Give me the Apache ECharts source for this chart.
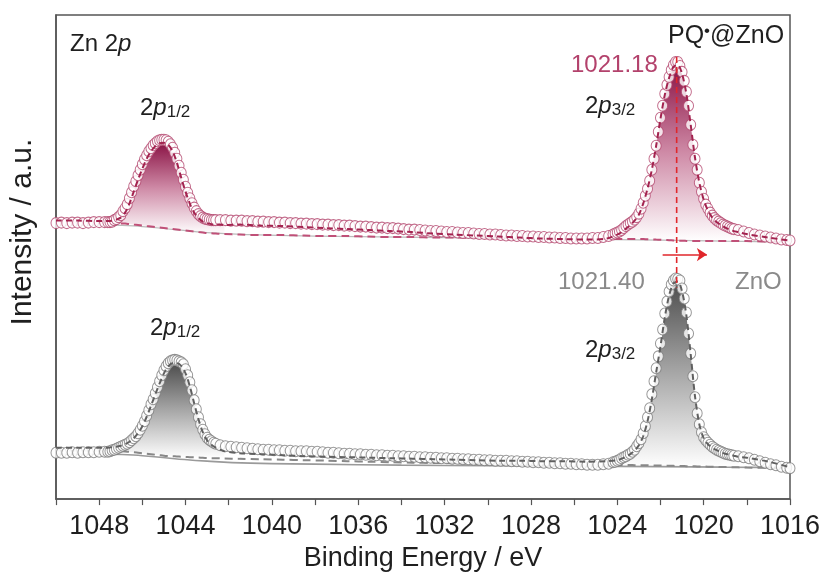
<!DOCTYPE html>
<html><head><meta charset="utf-8">
<script src="https://cdn.jsdelivr.net/npm/echarts@6/dist/echarts.min.js"></script>
<style>html,body{margin:0;padding:0;background:#fff}#c{width:829px;height:577px}</style>
</head><body><div id="c"></div>
<script>
// ---------- measured data grid (binding energy, eV) ----------
const eData = [1050,1049.75,1049.5,1049.25,1049,1048.75,1048.5,1048.25,1048,1047.75,
1047.6,1047.5,1047.4,1047.3,1047.2,1047.1,1047.0,1046.9,1046.8,1046.7,1046.6,1046.5,1046.4,1046.3,1046.2,1046.1,1046.0,1045.9,1045.8,1045.7,1045.6,1045.5,1045.4,1045.3,1045.2,1045.1,1045.0,1044.9,1044.8,1044.7,1044.6,1044.5,1044.4,1044.3,1044.2,1044.1,1044.0,1043.9,1043.8,1043.7,1043.6,1043.5,1043.4,1043.3,1043.2,1043.1,1043.0,1042.9,1042.8,1042.7,1042.6,
1042.4,1042.15,1041.9,1041.65,1041.4,1041.15,1040.9,1040.65,1040.4,1040.15,1039.9,1039.65,1039.4,1039.15,1038.9,1038.65,1038.4,1038.15,1037.9,1037.65,1037.4,1037.15,1036.9,1036.65,1036.4,1036.15,1035.9,1035.65,1035.4,1035.15,1034.9,1034.65,1034.4,1034.15,1033.9,1033.65,1033.4,1033.15,1032.9,1032.65,1032.4,1032.15,1031.9,1031.65,1031.4,1031.15,1030.9,1030.65,1030.4,1030.15,1029.9,1029.65,1029.4,1029.15,1028.9,1028.65,1028.4,1028.15,1027.9,1027.65,1027.4,1027.15,1026.9,1026.65,1026.4,1026.15,1025.9,1025.65,1025.4,1025.15,1024.9,1024.65,1024.4,
1024.2,1024.1,1024.0,1023.9,1023.8,1023.7,1023.6,1023.5,1023.4,1023.3,1023.2,1023.1,1023.0,1022.9,1022.8,1022.7,1022.6,1022.5,1022.4,1022.3,1022.2,1022.1,1022.0,1021.9,1021.8,1021.7,1021.6,1021.5,1021.4,1021.3,1021.2,1021.1,1021.0,1020.9,1020.8,1020.7,1020.6,1020.5,1020.4,1020.3,1020.2,1020.1,1020.0,1019.9,1019.8,1019.7,1019.6,1019.5,1019.4,1019.3,1019.2,1019.1,1019.0,1018.9,1018.8,1018.7,1018.6,
1018.4,1018.15,1017.9,1017.65,1017.4,1017.15,1016.9,1016.65,1016.4,1016.15,1016.0];

// PQ•@ZnO measured intensity (a.u.)
const pqData = [276.5,277,276.5,277,277,276.5,277,277.5,277.5,277.5,
277.5,277.5,278,279.5,280.5,282.5,284.5,288.5,291.5,295.5,301.5,307.5,313.5,318.5,324.5,330,335.5,340.5,344.5,348.5,351.5,354.5,356.5,358.5,359.5,360,360,359.5,358,355.5,352,347,341,334,327,320,313,307,301.5,296.5,292,288.5,285.5,283.5,282,281,280.5,280,279.5,279.5,279.5,
279.5,279.5,279,279,279,278.5,278.5,278,278,277.5,277.5,277,277,276.5,276.5,276,276,275.5,275.5,275,275,274.5,274.5,274,274,273.5,273,273,272.5,272,272,271.5,271.5,271,270.5,270,270,269.5,269,268.5,268.5,268,267.5,267.5,267,266.5,266.5,266,265.5,265.5,265,265,264.5,264,264,263.5,263.5,263,263,262.5,262.5,262,262,261.5,261.5,261,261,261,261,261.5,261.5,262.5,263.5,
265,266,267,268,269.5,271.5,273.5,275,276.5,278,280,282.5,286,291,297,304,311,319,330,341,354,368,382,394,406,415,423,430,435,438,438,434,428,419,408,394,375,355,341,330,317,308,301,295,291,287,284,281.5,279.5,278,276.5,275,274,273,272,271,270.5,
269.5,268,266.5,265,264,263,262,261,260,259.5,259];

// ZnO measured intensity (a.u.)
const znoData = [46.5,46.5,46.5,47,46.5,47,47,47,47.5,47.5,
47.5,48,49,49.5,50.5,51.5,52.5,53.5,54.5,55.5,57,59,61,63,66,69.5,73.5,78,83.5,89,95,100,106,112,118,124,129,133,136,138,139,139.5,139,138,137,135,130,124,117,109,99,90,82,75,69.5,65,61.5,59.5,58,56.5,55.5,
54,53,52.5,52,51.5,51,50.5,50,49.5,49.5,49,49,48.5,48.5,48,48,48,47.5,47.5,47,46.5,46.5,46,45.5,45.5,45,45,44.5,44.5,44,44,43.5,43.5,43,43,42.5,42.5,42,42,41.5,41.5,41,41,40.5,40.5,40,40,39.5,39.5,39,39,38.5,38.5,38.5,38,38,37.5,37.5,37,37,36.5,36.5,36,36,35.5,35.5,35,35,34.5,34.5,34.5,35,35.5,
37,37.5,38.5,39.5,41,42,43,44.5,45.5,47.5,49.5,53,56,60,66,73,82,91,105,118,131,143,156,170,186,198,208,215,219,221,220.5,219,211,201,187,166,146,123,102,86,75,67,62,59,56.5,54.5,52.5,51,49.5,48.5,47.5,46.5,45.5,45,44.5,44,43.5,
43,42,41,39.5,38,36.5,35,34,32.5,31.5,31];

// ---------- fit grid ----------
const eFit = [1050,1049,1048,
1047.8,1047.6,1047.4,1047.2,1047.0,1046.8,1046.6,1046.4,1046.2,1046.0,1045.8,1045.6,1045.4,1045.2,1045.0,1044.8,1044.6,1044.4,1044.2,1044.0,1043.8,1043.6,1043.4,1043.2,1043.0,1042.8,1042.6,1042.4,1042.2,
1041.5,1040.5,1039.5,1038.5,1037.5,1036.5,1035.5,1034.5,1033.5,1032.5,1031.5,1030.5,1029.5,1028.5,1027.5,1026.5,1025.5,1024.5,
1024.0,1023.8,1023.6,1023.4,1023.2,1023.0,1022.8,1022.6,1022.4,1022.2,1022.0,1021.8,1021.6,1021.4,1021.2,1021.0,1020.8,1020.6,1020.4,1020.2,1020.0,1019.8,1019.6,1019.4,1019.2,1019.0,1018.8,1018.6,1018.4,
1018,1017,1016];
const pqEnvelope = [279,279,278.5,
278.5,278.5,279,280,282,287,296,308,320,331,341,348.5,353.5,356.5,357,355,348.5,337,322,308,296,287,281.5,278,276.5,275.5,275,275,274.5,
275,274,273.5,272.5,271.5,270.5,269.5,268.5,267.5,266,265,264,263,262,261,260.5,260,261,
265,267.5,271,274.5,279,285,296,311,330,354,381,405,422,433,435,426,406,375,342,317,300,289,282,277.5,274.5,272,270,268.5,267.5,
265.5,262,259];
const pqBackground = [277,277,277,
277,277,276.8,276.5,276.2,276,275.5,275,274.5,274,273.5,273,272.5,272,271.5,271,270.5,270,269.5,269,268.5,268,267.5,267,266.5,266.3,266,265.8,265.5,
265,264.5,264.5,264,263.5,263.5,263,262.5,262.5,262,262,261.5,261.5,261,261,260.5,260.5,260.5,
260.5,260.5,260.5,260.5,260.5,260.5,260.5,260.3,260.2,260,259.8,259.6,259.4,259.2,259,258.8,258.7,258.6,258.5,258.5,258.5,258.5,258.5,258.5,258.5,258.5,258.5,258.5,258.5,
258.5,258,258];
const znoEnvelope = [51.5,51.5,51.5,
51.5,51.5,52,52.5,53.5,55,57.5,61,66,73,82.5,93.5,105,116,126,133,136,136,133.5,126,113,96,80,67,59,54.5,51.5,49.5,48,
46,45,44,43,42.5,42,41.5,41,40.5,40,39.5,39,38.5,38.5,38,38,37.5,38,
39,40.5,42.5,45,48.5,54,63,78,100,127,153,182,204,216,218,208,184,145,103,75,61,55,51.5,49,47,45.5,44.5,43.5,42.5,
41.5,37.5,32];
const znoBackground = [48.5,48.5,48.5,
48.5,48.5,48.5,48.3,48,47.7,47.3,47,46.5,46,45.5,45,44.5,44,43.5,43.2,43,42.7,42.5,42.2,42,41.8,41.6,41.4,41.2,41,40.9,40.8,40.7,
40.3,40,39.5,39,38.5,38,37.5,37,36.5,36.2,36,35.5,35.2,35,34.7,34.5,34.3,34.2,
34.2,34.2,34.1,34.1,34,34,34,33.9,33.8,33.7,33.6,33.5,33.4,33.3,33.2,33.1,33,32.9,32.8,32.7,32.6,32.5,32.4,32.3,32.2,32.1,32,31.9,31.8,
31.6,31.3,31];
// thin solid baselines
const eBase = [1050,1047.5,1046,1044.5,1043,1041,1038,1034,1030,1026,1022,1019,1016];
const pqBase = [274.5,274.5,273,270,267,265,263.5,262.5,261.5,260.5,259.5,258.5,257.5];
const znoBase = [45,45,43.5,40.5,38,36,35,34,33.5,33,32.5,32,31.5];
// peak windows on the fit grid (2p1/2, 2p3/2)
const peakWindows = [[3,31],[50,78]];
// annotations
const shiftE = 1021.25;
const shiftI = [443, 212];
const arrowE = [1021.9, 1019.85];
const arrowI = 245;

const FONT = "'Liberation Sans', Arial, sans-serif";
const zip = (xs, ys) => xs.map((x, i) => [x, ys[i]]);
const grad = (c0, c1) => new echarts.graphic.LinearGradient(0, 0, 0, 1, [
  {offset: 0, color: c0}, {offset: 0.5, color: c1}, {offset: 1, color: '#ffffff'}]);

function fillSeries(env, bg, c0, c1) {
  return {
    type: 'custom', coordinateSystem: 'cartesian2d', data: [[1030, 100]], z: 1, silent: true,
    renderItem: function (params, api) {
      const children = peakWindows.map(function (w) {
        const pts = [];
        for (let i = w[0]; i <= w[1]; i++) pts.push(api.coord([eFit[i], env[i]]));
        for (let i = w[1]; i >= w[0]; i--) pts.push(api.coord([eFit[i], bg[i]]));
        return {type: 'polygon', shape: {points: pts}, style: {fill: grad(c0, c1), stroke: null}};
      });
      return {type: 'group', children: children};
    }
  };
}

const series = [
  fillSeries(pqEnvelope, pqBackground, '#8a1244', '#cf8ba7'),
  fillSeries(znoEnvelope, znoBackground, '#4d4d4d', '#a8a8a8'),
  {type: 'line', data: zip(eBase, pqBase), symbol: 'none', smooth: true, lineStyle: {color: '#bbbbbb', width: 1.2}, z: 2},
  {type: 'line', data: zip(eBase, znoBase), symbol: 'none', smooth: true, lineStyle: {color: '#9a9a9a', width: 1.6}, z: 2},
  {type: 'line', data: zip(eFit, pqBackground), symbol: 'none', smooth: 0.3, lineStyle: {color: '#c05078', width: 2, type: [8, 5]}, z: 2},
  {type: 'line', data: zip(eFit, znoBackground), symbol: 'none', smooth: 0.3, lineStyle: {color: '#888888', width: 2, type: [8, 5]}, z: 2},
  {type: 'scatter', data: zip(eData, pqData), symbol: 'circle', symbolSize: [10, 11],
    itemStyle: {color: '#ffffff', borderColor: '#b3456d', borderWidth: 1}, z: 3, silent: true},
  {type: 'scatter', data: zip(eData, znoData), symbol: 'circle', symbolSize: [10, 11],
    itemStyle: {color: '#ffffff', borderColor: '#7a7a7a', borderWidth: 1}, z: 3, silent: true},
  {type: 'line', data: zip(eFit, pqEnvelope), symbol: 'none', smooth: 0.3, lineStyle: {color: '#a3234f', width: 2, type: [6, 4]}, z: 4},
  {type: 'line', data: zip(eFit, znoEnvelope), symbol: 'none', smooth: 0.3, lineStyle: {color: '#606060', width: 2, type: [6, 4]}, z: 4},
  {type: 'line', data: [[shiftE, shiftI[0]], [shiftE, shiftI[1]]], symbol: 'none',
    lineStyle: {color: '#e0262b', width: 1.6, type: [6, 4]}, z: 5,
    markLine: {silent: true, symbol: ['none', 'arrow'], symbolSize: 10, label: {show: false},
      lineStyle: {color: '#e0262b', width: 1.6, type: 'solid'},
      data: [[{coord: [arrowE[0], arrowI]}, {coord: [arrowE[1], arrowI]}]]}}
];

const TXT = '#1f1f1f';
const txt = (x, y, text, rich, fill, size) => ({type: 'text', x: x, y: y, z: 10,
  style: {text: text, fill: fill || TXT, fontFamily: FONT, fontSize: size || 24, align: 'left', verticalAlign: 'middle', rich: rich || undefined}});
const richP = {
  n: {fontSize: 24, lineHeight: 26, fontFamily: FONT, fill: TXT},
  i: {fontSize: 24, lineHeight: 26, fontStyle: 'italic', fontFamily: FONT, fill: TXT},
  s: {fontSize: 17, lineHeight: 10, verticalAlign: 'bottom', fontFamily: FONT, fill: TXT}
};

const option = {
  animation: false,
  backgroundColor: '#ffffff',
  grid: {left: 55, right: 39, top: 15, bottom: 77, show: true, borderColor: '#555', borderWidth: 1.5, backgroundColor: 'transparent'},
  xAxis: {type: 'value', min: 1016, max: 1050, interval: 2, inverse: true,
    axisLine: {lineStyle: {color: '#555', width: 1.5}},
    axisTick: {length: 6, lineStyle: {color: '#555', width: 1.2}},
    splitLine: {show: false},
    axisLabel: {fontSize: 27, color: TXT, margin: 14, fontFamily: FONT,
      formatter: v => (v % 4 === 0 ? String(v) : '')},
    name: 'Binding Energy / eV', nameLocation: 'middle', nameGap: 42,
    nameTextStyle: {fontSize: 27, color: TXT, fontFamily: FONT}},
  yAxis: {type: 'value', min: 0, max: 485,
    axisLine: {show: true, lineStyle: {color: '#555', width: 1.5}},
    axisTick: {show: false}, axisLabel: {show: false}, splitLine: {show: false},
    name: 'Intensity / a.u.', nameLocation: 'middle', nameGap: 18,
    nameTextStyle: {fontSize: 30, color: TXT, fontFamily: FONT, padding: [0, 0, 0, 50]}},
  series: series,
  graphic: [
    txt(70, 44, '{n|Zn 2}{i|p}', richP),
    txt(140, 108, '{n|2}{i|p}{s|1/2}', richP),
    txt(585, 106, '{n|2}{i|p}{s|3/2}', richP),
    txt(150, 328, '{n|2}{i|p}{s|1/2}', richP),
    txt(585, 350, '{n|2}{i|p}{s|3/2}', richP),
    txt(668, 36, '{n|PQ}{b|•}{n|@ZnO}', {
      n: {fontSize: 25, lineHeight: 26, fontFamily: FONT, fill: TXT},
      b: {fontSize: 17, lineHeight: 12, verticalAlign: 'top', fontFamily: FONT, fill: TXT}}),
    txt(571, 65, '1021.18', null, '#b3426c', 24),
    txt(558, 282, '1021.40', null, '#8a8a8a', 24),
    txt(735, 282, 'ZnO', null, '#8a8a8a', 24)
  ]
};
const chart = echarts.init(document.getElementById('c'));
chart.setOption(option);
</script></body></html>
